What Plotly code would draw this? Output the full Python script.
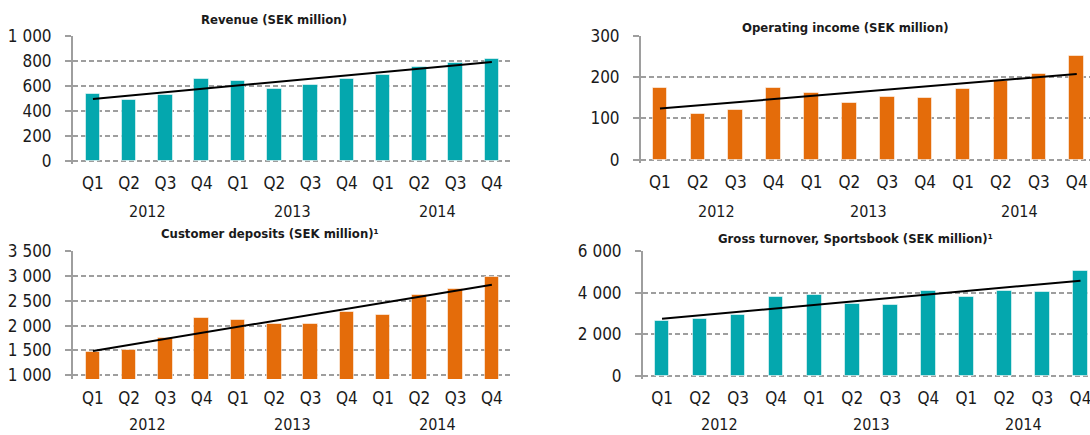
import plotly.graph_objects as go

# ---------------- data ----------------
quarters = ["Q1", "Q2", "Q3", "Q4"] * 3
years = ["2012", "2013", "2014"]

revenue = [533, 488, 528, 653, 640, 579, 605, 656, 685, 752, 784, 816]
revenue_trend = [496, 792]

operating_income = [174, 110, 120, 173, 161, 137, 152, 149, 171, 191, 208, 252]
operating_trend = [124, 208]

customer_deposits = [1469, 1516, 1751, 2153, 2119, 2025, 2032, 2267, 2213, 2609, 2743, 2984]
deposits_trend = [1489, 2823]

gross_turnover = [2644, 2739, 2929, 3768, 3863, 3435, 3388, 4068, 3768, 4100, 4037, 5034]
turnover_trend = [2739, 4575]

titles = [
    "Revenue (SEK million)",
    "Operating income (SEK million)",
    "Customer deposits (SEK million)¹",
    "Gross turnover, Sportsbook (SEK million)¹",
]

ticks_rev = [0, 200, 400, 600, 800, 1000]
ticklabels_rev = ["0", "200", "400", "600", "800", "1 000"]
ticks_op = [0, 100, 200, 300]
ticklabels_op = ["0", "100", "200", "300"]
ticks_dep = [1000, 1500, 2000, 2500, 3000, 3500]
ticklabels_dep = ["1 000", "1 500", "2 000", "2 500", "3 000", "3 500"]
ticks_gt = [0, 2000, 4000, 6000]
ticklabels_gt = ["0", "2 000", "4 000", "6 000"]

# ---------------- style ----------------
TEAL = "#04A7AE"
ORANGE = "#E46C0A"
GRID = "#9E9E9E"
TXT = "#1a1a1a"
FONT = "'DejaVu Sans Condensed', 'Open Sans', sans-serif"
TITLE_FONT = "'DejaVu Sans Condensed', 'DejaVu Sans', sans-serif"

W, H = 1090, 435

def px_x(p):
    return p / W

def px_y(p):
    return 1 - p / H

panels = [
    dict(v=revenue, t=revenue_trend, c=TEAL, tv=ticks_rev, tt=ticklabels_rev,
         yr=[-25, 1000], xd=(73, 510), yd=(36, 164), xr=[-0.55, 11.5], bw=0.40,
         title=titles[0], tpos=(274, 20), yearpos=212),
    dict(v=operating_income, t=operating_trend, c=ORANGE, tv=ticks_op, tt=ticklabels_op,
         yr=[-8, 300], xd=(641, 1090), yd=(36, 163), xr=[-0.5, 11.35], bw=0.385,
         title=titles[1], tpos=(845, 27), yearpos=211),
    dict(v=customer_deposits, t=deposits_trend, c=ORANGE, tv=ticks_dep, tt=ticklabels_dep,
         yr=[925, 3500], xd=(73, 510), yd=(251, 379), xr=[-0.55, 11.5], bw=0.40,
         title=titles[2], tpos=(270, 234), yearpos=424),
    dict(v=gross_turnover, t=turnover_trend, c=TEAL, tv=ticks_gt, tt=ticklabels_gt,
         yr=[-150, 6000], xd=(643, 1090), yd=(251, 379), xr=[-0.5, 11.25], bw=0.385,
         title=titles[3], tpos=(855, 238), yearpos=424),
]

fig = go.Figure()
annotations = []
layout = {}
xcat = list(range(12))

for i, p in enumerate(panels, start=1):
    xa = "x" if i == 1 else f"x{i}"
    ya = "y" if i == 1 else f"y{i}"
    fig.add_trace(go.Bar(
        x=xcat, y=p["v"], width=p["bw"], xaxis=xa, yaxis=ya,
        marker=dict(color=p["c"], line=dict(color="rgba(255,255,255,0.55)", width=1)),
        showlegend=False, hoverinfo="skip",
    ))
    fig.add_trace(go.Scatter(
        x=[xcat[0], xcat[-1]], y=p["t"], mode="lines", xaxis=xa, yaxis=ya,
        line=dict(color="black", width=2), showlegend=False, hoverinfo="skip",
    ))
    xkey = "xaxis" if i == 1 else f"xaxis{i}"
    ykey = "yaxis" if i == 1 else f"yaxis{i}"
    layout[xkey] = dict(
        domain=[px_x(p["xd"][0]), px_x(p["xd"][1])], anchor=ya, range=p["xr"],
        tickmode="array", tickvals=xcat, ticktext=quarters,
        showgrid=False, zeroline=False, showline=False, ticks="",
        tickfont=dict(family=FONT, size=17, color=TXT), ticklabelstandoff=7,
        ticklabeloverflow="allow", automargin=False, fixedrange=True,
    )
    layout[ykey] = dict(
        domain=[px_y(p["yd"][1]), px_y(p["yd"][0])], anchor=xa, range=p["yr"],
        tickmode="array", tickvals=p["tv"], ticktext=p["tt"],
        showgrid=True, gridcolor=GRID, gridwidth=2, griddash="5px,3px",
        zeroline=False, showline=True, linecolor=GRID, linewidth=2,
        ticks="outside", ticklen=6, tickcolor=GRID, tickwidth=2,
        tickfont=dict(family=FONT, size=17, color=TXT), ticklabelstandoff=10,
        ticklabeloverflow="allow", automargin=False, fixedrange=True,
    )
    annotations.append(dict(
        text=f"<b>{p['title']}</b>", xref="paper", yref="paper",
        x=px_x(p["tpos"][0]), y=px_y(p["tpos"][1]), xanchor="center", yanchor="middle",
        showarrow=False, font=dict(family=TITLE_FONT, size=13, color=TXT),
    ))
    for k, yr in enumerate(years):
        annotations.append(dict(
            text=yr, xref=xa, yref="paper", x=4 * k + 1.5, y=px_y(p["yearpos"]),
            xanchor="center", yanchor="middle", showarrow=False,
            font=dict(family=FONT, size=16, color=TXT),
        ))

fig.update_layout(
    template="none",
    width=W, height=H, margin=dict(l=0, r=0, t=0, b=0, autoexpand=False),
    paper_bgcolor="white", plot_bgcolor="white",
    annotations=annotations, bargap=0, **layout,
)

fig.write_html("out.html", config={"displayModeBar": False})
